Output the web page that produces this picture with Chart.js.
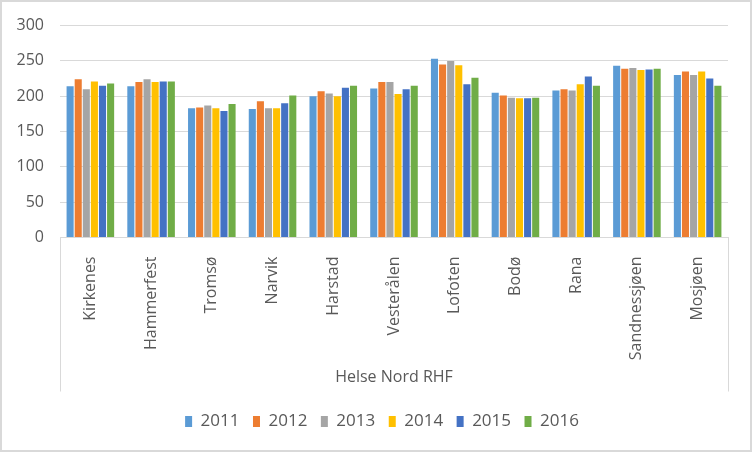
<!DOCTYPE html>
<html>
<head>
<meta charset="utf-8">
<script src="https://cdn.jsdelivr.net/npm/chart.js@4.4.0/dist/chart.umd.min.js"></script>
<style>
  html, body { margin: 0; padding: 0; background: #fff; }
  #wrap { width: 752px; height: 452px; }
</style>
</head>
<body>
<div id="wrap"><canvas id="hospitalChart" width="752" height="452"></canvas></div>
<script>
var categories = ['Kirkenes', 'Hammerfest', 'Tromsø', 'Narvik', 'Harstad', 'Vesterålen', 'Lofoten', 'Bodø', 'Rana', 'Sandnessjøen', 'Mosjøen'];
var years = ['2011', '2012', '2013', '2014', '2015', '2016'];
var values2011 = [214, 214, 183, 182, 200, 211, 253, 205, 208, 243, 230];
var values2012 = [224, 220, 184, 193, 207, 220, 245, 201, 210, 239, 235];
var values2013 = [210, 224, 187, 183, 204, 220, 250, 198, 208, 240, 230];
var values2014 = [221, 220, 183, 183, 200, 203, 244, 197, 217, 237, 235];
var values2015 = [215, 221, 179, 190, 212, 210, 217, 197, 228, 238, 225];
var values2016 = [218, 221, 189, 201, 215, 215, 226, 198, 215, 239, 215];
var yTicks = [0, 50, 100, 150, 200, 250, 300];
var groupLabel = 'Helse Nord RHF';

var seriesValues = [values2011, values2012, values2013, values2014, values2015, values2016];
var colors = ['#5B9BD5', '#ED7D31', '#A5A5A5', '#FFC000', '#4472C4', '#70AD47'];
var textColor = '#595959';
var lineColor = '#d9d9d9';
var fontFamily = "'Open Sans', 'Noto Sans', sans-serif";
var groupLineLength = 154;

// white background, outer frame and the group dividers under the category axis
var framePlugin = {
    id: 'frame',
    afterLayout: function(chart) {
        // legend in the original sits a bit right of the canvas centre
        if (chart.legend) chart.legend.left += 36;
    },
    beforeDraw: function(chart) {
        var c = chart.ctx;
        c.save();
        c.fillStyle = '#fff';
        c.fillRect(0, 0, chart.width, chart.height);
        c.restore();
    },
    afterDraw: function(chart) {
        var c = chart.ctx;
        var area = chart.chartArea;
        c.save();
        c.strokeStyle = lineColor;
        c.lineWidth = 1;
        c.beginPath();
        c.moveTo(Math.round(area.left) + 0.5, area.bottom);
        c.lineTo(Math.round(area.left) + 0.5, area.bottom + groupLineLength);
        c.moveTo(Math.round(area.right) + 0.5, area.bottom);
        c.lineTo(Math.round(area.right) + 0.5, area.bottom + groupLineLength);
        c.stroke();
        c.lineWidth = 2;
        c.strokeRect(1, 1, chart.width - 2, chart.height - 2);
        c.restore();
    }
};

var ctx = document.getElementById('hospitalChart').getContext('2d');
var hospitalChart = new Chart(ctx, {
    type: 'bar',
    data: {
        labels: categories,
        datasets: years.map(function(year, i) {
            return {
                label: year,
                data: seriesValues[i],
                backgroundColor: colors[i],
                borderWidth: 0,
                categoryPercentage: 0.8,
                barPercentage: 0.875
            };
        })
    },
    options: {
        responsive: false,
        animation: false,
        devicePixelRatio: 1,
        layout: {
            padding: { top: 13, right: 24, bottom: 12, left: 0 }
        },
        plugins: {
            tooltip: { enabled: false },
            legend: {
                position: 'bottom',
                labels: {
                    boxWidth: 7,
                    boxHeight: 11,
                    padding: 13.5,
                    color: textColor,
                    font: { family: fontFamily, size: 17 }
                }
            }
        },
        scales: {
            x: {
                grid: { display: false },
                border: { display: true, color: lineColor },
                afterFit: function(scale) { scale.height = 162; },
                ticks: {
                    autoSkip: false,
                    minRotation: 90,
                    maxRotation: 90,
                    padding: 11,
                    color: textColor,
                    font: { family: fontFamily, size: 16 }
                },
                title: {
                    display: true,
                    text: groupLabel,
                    color: textColor,
                    padding: { top: 0, bottom: 12 },
                    font: { family: fontFamily, size: 16 }
                }
            },
            y: {
                min: 0,
                max: 300,
                afterFit: function(scale) { scale.width = 60; },
                afterBuildTicks: function(scale) {
                    scale.ticks = yTicks.map(function(v) { return { value: v }; });
                },
                grid: { color: lineColor, drawTicks: false },
                border: { display: false },
                ticks: {
                    padding: 16,
                    color: textColor,
                    font: { family: fontFamily, size: 16 }
                }
            }
        }
    },
    plugins: [framePlugin]
});
</script>
</body>
</html>
